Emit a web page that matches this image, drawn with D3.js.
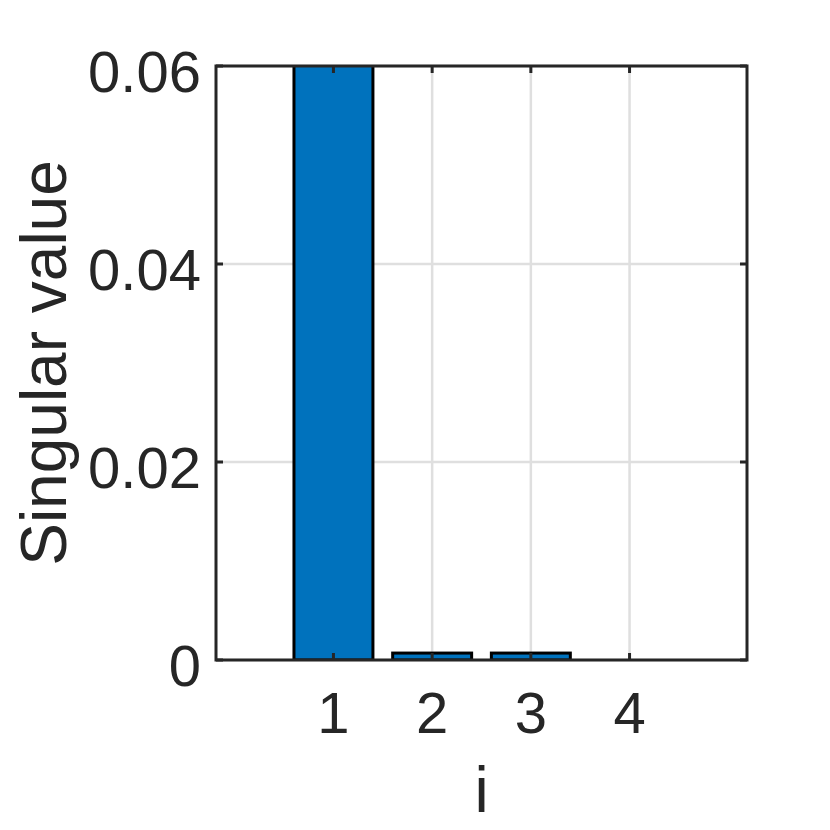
<!DOCTYPE html>
<html>
<head>
<meta charset="utf-8">
<script src="https://cdn.jsdelivr.net/npm/d3@7"></script>
<style>
  body { margin: 0; background: #fff; }
  text { font-family: "Liberation Sans", Arial, sans-serif; fill: #262626; }
</style>
</head>
<body>
<svg id="chart" width="830" height="830"></svg>
<script>
// singular values (first one runs off the top of the axes)
const indices = [1, 2, 3, 4];
const values = [0.3, 0.0007, 0.0007, 0];
const yTicks = [0, 0.02, 0.04, 0.06];
const yTickLabels = ['0', '0.02', '0.04', '0.06'];
const xTicks = [1, 2, 3, 4];
const xTickLabels = ['1', '2', '3', '4'];

const margin = { top: 66, right: 83, bottom: 170, left: 216 };
const width = 830 - margin.left - margin.right;
const height = 830 - margin.top - margin.bottom;

const svg = d3.select('#chart')
  .append('g')
  .attr('transform', `translate(${margin.left},${margin.top})`);

const x = d3.scaleLinear().domain([-0.19, 5.19]).range([0, width]);
const y = d3.scaleLinear().domain([0, 0.06]).range([height, 0]);

svg.append('defs').append('clipPath')
  .attr('id', 'plot-clip')
  .append('rect')
  .attr('width', width)
  .attr('height', height);

// grid lines
svg.append('g')
  .selectAll('line')
  .data(xTicks)
  .enter()
  .append('line')
  .attr('x1', d => x(d)).attr('x2', d => x(d))
  .attr('y1', 0).attr('y2', height)
  .attr('stroke', '#dfdfdf')
  .attr('stroke-width', 2.5);

svg.append('g')
  .selectAll('line')
  .data(yTicks)
  .enter()
  .append('line')
  .attr('x1', 0).attr('x2', width)
  .attr('y1', d => y(d)).attr('y2', d => y(d))
  .attr('stroke', '#dfdfdf')
  .attr('stroke-width', 2.5);

// bars
const barWidth = x(0.8) - x(0);
svg.append('g')
  .attr('clip-path', 'url(#plot-clip)')
  .selectAll('rect')
  .data(values)
  .enter()
  .append('rect')
  .attr('x', (d, i) => x(indices[i]) - barWidth / 2)
  .attr('y', d => y(d))
  .attr('width', barWidth)
  .attr('height', d => y(0) - y(d))
  .attr('fill', '#0072bd')
  .attr('stroke', '#000')
  .attr('stroke-width', 3);

// axes box with inward ticks on all sides
const axisColor = '#262626';
const tickLen = 7;

const ticks = svg.append('g')
  .attr('stroke', axisColor)
  .attr('stroke-width', 3);

xTicks.forEach(t => {
  ticks.append('line').attr('x1', x(t)).attr('x2', x(t)).attr('y1', height).attr('y2', height - tickLen);
  ticks.append('line').attr('x1', x(t)).attr('x2', x(t)).attr('y1', 0).attr('y2', tickLen);
});
yTicks.forEach(t => {
  ticks.append('line').attr('x1', 0).attr('x2', tickLen).attr('y1', y(t)).attr('y2', y(t));
  ticks.append('line').attr('x1', width).attr('x2', width - tickLen).attr('y1', y(t)).attr('y2', y(t));
});

svg.append('rect')
  .attr('width', width)
  .attr('height', height)
  .attr('fill', 'none')
  .attr('stroke', axisColor)
  .attr('stroke-width', 3);

// tick labels
svg.append('g')
  .selectAll('text')
  .data(yTicks)
  .enter()
  .append('text')
  .attr('x', -15)
  .attr('y', d => y(d) + 26)
  .attr('text-anchor', 'end')
  .style('font-size', '58px')
  .text((d, i) => yTickLabels[i]);

svg.append('g')
  .selectAll('text')
  .data(xTicks)
  .enter()
  .append('text')
  .attr('x', d => x(d))
  .attr('y', height + 73)
  .attr('text-anchor', 'middle')
  .style('font-size', '58px')
  .text((d, i) => xTickLabels[i]);

// axis labels
svg.append('text')
  .attr('x', width / 2)
  .attr('y', height + 152)
  .attr('text-anchor', 'middle')
  .style('font-size', '64px')
  .text('i');

svg.append('text')
  .attr('transform', 'rotate(-90)')
  .attr('x', -height / 2)
  .attr('y', -150)
  .attr('text-anchor', 'middle')
  .style('font-size', '64px')
  .text('Singular value');
</script>
</body>
</html>
